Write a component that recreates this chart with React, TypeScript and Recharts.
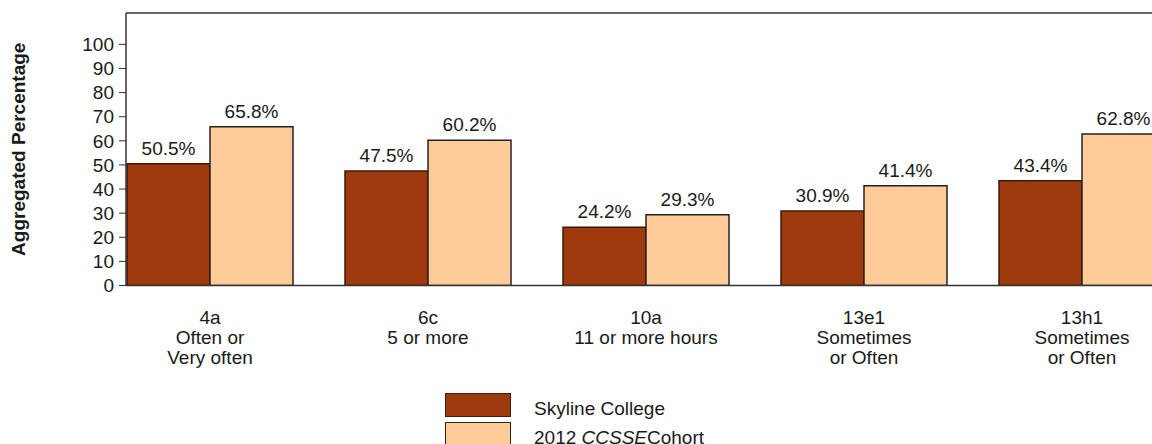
import React from "react";
import {
  Bar,
  BarChart,
  LabelList,
  Legend,
  ReferenceLine,
  XAxis,
  YAxis,
} from "recharts";

const ITEM_CODES = ["4a", "6c", "10a", "13e1", "13h1"];
const ITEM_TEXT = [
  ["Often or", "Very often"],
  ["5 or more"],
  ["11 or more hours"],
  ["Sometimes", "or Often"],
  ["Sometimes", "or Often"],
];
const SKYLINE = [50.5, 47.5, 24.2, 30.9, 43.4];
const COHORT = [65.8, 60.2, 29.3, 41.4, 62.8];
const Y_TICKS = [0, 10, 20, 30, 40, 50, 60, 70, 80, 90, 100];
const SERIES_NAMES = ["Skyline College", "2012 CCSSE Cohort"];

const DARK = "#9E3A0E";
const LIGHT = "#FECB99";
const FONT = '"Liberation Sans", Arial, sans-serif';
const FS = 19;

const rows = ITEM_CODES.map((code, i) => ({
  code,
  lines: [code, ...ITEM_TEXT[i]],
  skyline: SKYLINE[i],
  cohort: COHORT[i],
}));

// category label: item code, then the response wording below it
function ItemTick(props: any) {
  const { x, y, payload } = props;
  const row = rows[payload.index];
  return (
    <text x={x} y={y} textAnchor="middle" fill="#1a1a1a" fontSize={FS} fontFamily={FONT}>
      {row.lines.map((l, i) => (
        <tspan key={i} x={x} dy={i === 0 ? 30 : 20}>
          {l}
        </tspan>
      ))}
    </text>
  );
}

function YTitle(props: any) {
  const { viewBox } = props;
  const cy = viewBox.y + viewBox.height / 2;
  return (
    <text
      x={25}
      y={cy}
      transform={`rotate(-90, 25, ${cy})`}
      textAnchor="middle"
      fontSize={FS}
      fontWeight="bold"
      fontFamily={FONT}
      fill="#1a1a1a"
    >
      Aggregated Percentage
    </text>
  );
}

function LegendBox({ payload }: any) {
  const items = [...(payload || [])].sort(
    (a: any, b: any) => SERIES_NAMES.indexOf(a.value) - SERIES_NAMES.indexOf(b.value)
  );
  return (
    <div style={{ fontFamily: FONT, fontSize: FS, color: "#1a1a1a" }}>
      {items.map((p: any, i: number) => (
        <div key={i} style={{ display: "flex", alignItems: "center", height: 29 }}>
          <div
            style={{
              width: 64,
              height: 22,
              background: p.color,
              border: "1.5px solid #3a1f12",
              marginRight: 23,
            }}
          />
          <span style={{ position: "relative", top: 4 }}>
            {p.value === "2012 CCSSE Cohort" ? (
              <>
                2012 <i>CCSSE</i>Cohort
              </>
            ) : (
              p.value
            )}
          </span>
        </div>
      ))}
    </div>
  );
}

export default function App() {
  return (
    <div
      style={{
        position: "absolute",
        left: 0,
        top: 0,
        width: 1152,
        height: 444,
        overflow: "hidden",
        background: "#fff",
      }}
    >
      <BarChart
        width={1200}
        height={444}
        data={rows}
        margin={{ top: 13, right: 9, bottom: 58.5, left: 0 }}
        barCategoryGap={26}
        barGap={0}
      >
        <XAxis
          dataKey="code"
          height={100}
          axisLine={{ stroke: "#333", strokeWidth: 1.5 }}
          tickLine={false}
          tick={<ItemTick />}
          interval={0}
          padding={{ left: -25, right: 0 }}
        />
        <YAxis
          width={126}
          domain={[0, 113]}
          ticks={Y_TICKS}
          interval={0}
          allowDataOverflow
          axisLine={{ stroke: "#333", strokeWidth: 1.5 }}
          tickLine={{ stroke: "#333" }}
          tickSize={7}
          tickMargin={5}
          tick={{ fill: "#1a1a1a", fontSize: FS, fontFamily: FONT }}
          label={<YTitle />}
        />
        <ReferenceLine y={113} stroke="#333" strokeWidth={1.5} ifOverflow="visible" />
        <Legend
          layout="vertical"
          align="center"
          verticalAlign="middle"
          content={<LegendBox />}
          wrapperStyle={{ left: 445, top: 390, width: 400 }}
        />
        <Bar
          dataKey="skyline"
          name={SERIES_NAMES[0]}
          fill={DARK}
          stroke="#3a1a0a"
          strokeWidth={1.5}
          isAnimationActive={false}
        >
          <LabelList
            dataKey="skyline"
            position="top"
            offset={9}
            formatter={(v: any) => `${Number(v).toFixed(1)}%`}
            style={{ fill: "#1a1a1a", fontSize: FS, fontFamily: FONT }}
          />
        </Bar>
        <Bar
          dataKey="cohort"
          name={SERIES_NAMES[1]}
          fill={LIGHT}
          stroke="#222"
          strokeWidth={1.5}
          isAnimationActive={false}
        >
          <LabelList
            dataKey="cohort"
            position="top"
            offset={9}
            formatter={(v: any) => `${Number(v).toFixed(1)}%`}
            style={{ fill: "#1a1a1a", fontSize: FS, fontFamily: FONT }}
          />
        </Bar>
      </BarChart>
    </div>
  );
}
